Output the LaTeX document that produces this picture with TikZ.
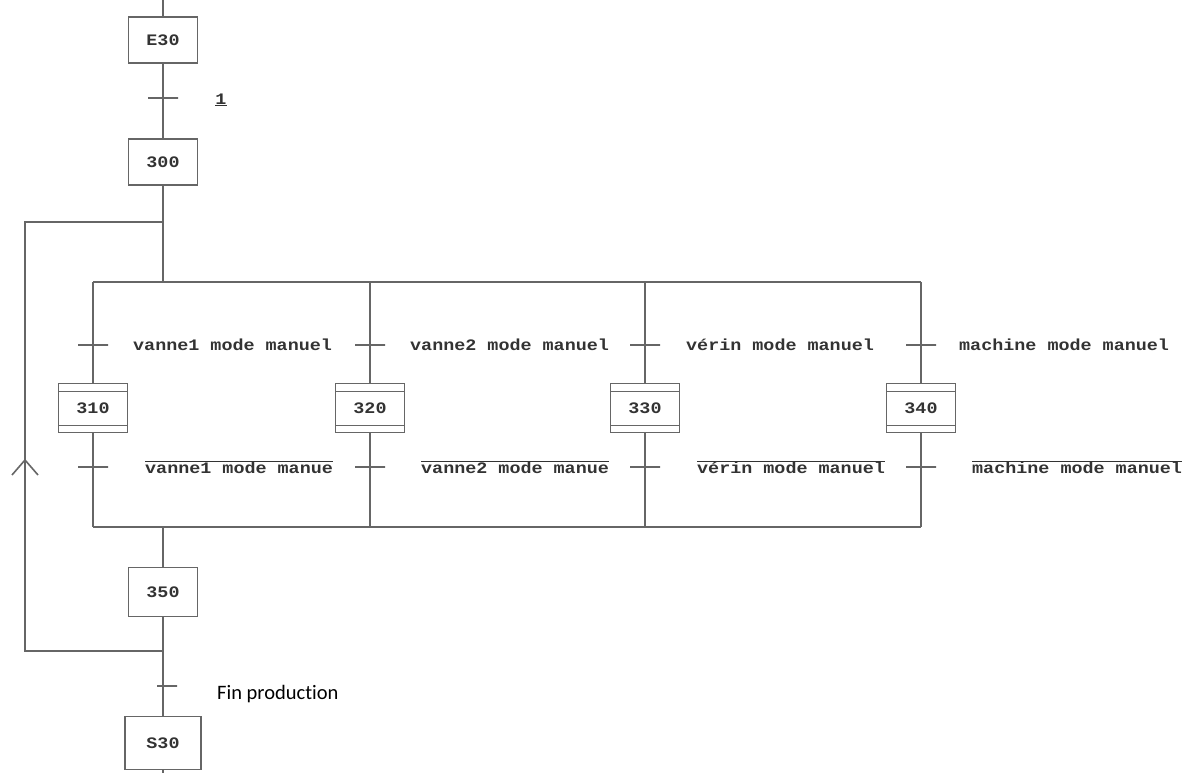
\documentclass[tikz,border=0pt]{standalone}
\usepackage{fontspec}
\newfontfamily\grafmono[FakeStretch=1.15]{Liberation Mono}
\newfontfamily\notefont[Ligatures=NoCommon]{Carlito}
\begin{document}
\begin{tikzpicture}
   [x=1pt,y=-1pt,
    line/.style={draw=black!60, line width=1.6pt},
    etape/.style={line, minimum width=69pt, minimum height=46pt, inner sep=0pt,
       font=\grafmono\bfseries\fontsize{16}{18}\selectfont, text=black!80},
    macro/.style={etape, minimum height=49pt,
       path picture={
         \draw[black!60, line width=1.6pt]
           ([yshift=-8pt]path picture bounding box.north west) -- ([yshift=-8pt]path picture bounding box.north east)
           ([yshift=7pt]path picture bounding box.south west) -- ([yshift=7pt]path picture bounding box.south east);}},
    trans/.style={line, minimum width=30pt, minimum height=0pt, inner sep=0pt},
    cond/.style={anchor=west, inner sep=0pt,
       font=\grafmono\bfseries\fontsize{16}{18}\selectfont, text=black!80}]
   \useasboundingbox (0,0) rectangle (1195,773);

   % main column
   \coordinate (top) at (163,0);
   \node[etape] (e30) at (163,40) {E30};
   \node[trans] (t1) at (163,98) {};
   \node[cond, anchor=center] (c1) at (221,100) {\underline{1}};
   \node[etape] (s300) at (163,162) {300};
   \coordinate (j1) at (163,222);
   \coordinate (j1l) at (25,222);
   \coordinate (ptop) at (163,282);
   \draw[line] (top) -- (e30) -- (t1) -- (s300) -- (j1) -- (ptop);

   % parallel branches
   \coordinate (a1) at (93,282);
   \coordinate (a2) at (370,282);
   \coordinate (a3) at (645,282);
   \coordinate (a4) at (921,282);
   \draw[line] (a1) -- (a4);

   \node[trans] (t310) at (93,345) {};
   \node[trans] (t320) at (370,345) {};
   \node[trans] (t330) at (645,345) {};
   \node[trans] (t340) at (921,345) {};
   \node[cond] (c310) at (133,345) {vanne1 mode manuel};
   \node[cond] (c320) at (410,345) {vanne2 mode manuel};
   \node[cond] (c330) at (686,345) {vérin mode manuel};
   \node[cond] (c340) at (959,345) {machine mode manuel};

   \node[macro] (m310) at (93,408) {310};
   \node[macro] (m320) at (370,408) {320};
   \node[macro] (m330) at (645,408) {330};
   \node[macro] (m340) at (921,408) {340};

   \node[trans] (u310) at (93,467) {};
   \node[trans] (u320) at (370,467) {};
   \node[trans] (u330) at (645,467) {};
   \node[trans] (u340) at (921,467) {};
   \node[cond] (d310) at (145,467) {$\overline{\mbox{vanne1 mode manue}}$};
   \node[cond] (d320) at (421,467) {$\overline{\mbox{vanne2 mode manue}}$};
   \node[cond] (d330) at (697,467) {$\overline{\mbox{vérin mode manuel}}$};
   \node[cond] (d340) at (972,467) {$\overline{\mbox{machine mode manuel}}$};

   \coordinate (b1) at (93,527);
   \coordinate (b2) at (370,527);
   \coordinate (b3) at (645,527);
   \coordinate (b4) at (921,527);
   \draw[line] (b1) -- (b4);

   \draw[line] (a1) -- (t310) -- (m310) -- (u310) -- (b1);
   \draw[line] (a2) -- (t320) -- (m320) -- (u320) -- (b2);
   \draw[line] (a3) -- (t330) -- (m330) -- (u330) -- (b3);
   \draw[line] (a4) -- (t340) -- (m340) -- (u340) -- (b4);

   % end of sequence
   \coordinate (pbot) at (163,527);
   \node[etape, minimum height=49pt] (s350) at (163,592) {350};
   \coordinate (j2) at (163,651);
   \coordinate (j2l) at (25,651);
   \node[trans, minimum width=20pt] (tfin) at (167,686) {};
   \node[anchor=west, inner sep=0pt, font=\notefont\fontsize{20.5}{24}\selectfont] (cfin) at (217,694) {Fin production};
   \node[etape, minimum width=76pt, minimum height=53pt] (s30) at (163,743) {S30};
   \coordinate (bot) at (163,773);
   \draw[line] (pbot) -- (s350) -- (j2) -- (s30) -- (bot);

   % loop back
   \draw[line] (j2) -- (j2l) -- (j1l) -- (j1);
   \coordinate (up) at (25,460);
   \draw[line] ([shift={(-13,15)}]up) -- (up) -- ([shift={(13,15)}]up);
\end{tikzpicture}
\end{document}
